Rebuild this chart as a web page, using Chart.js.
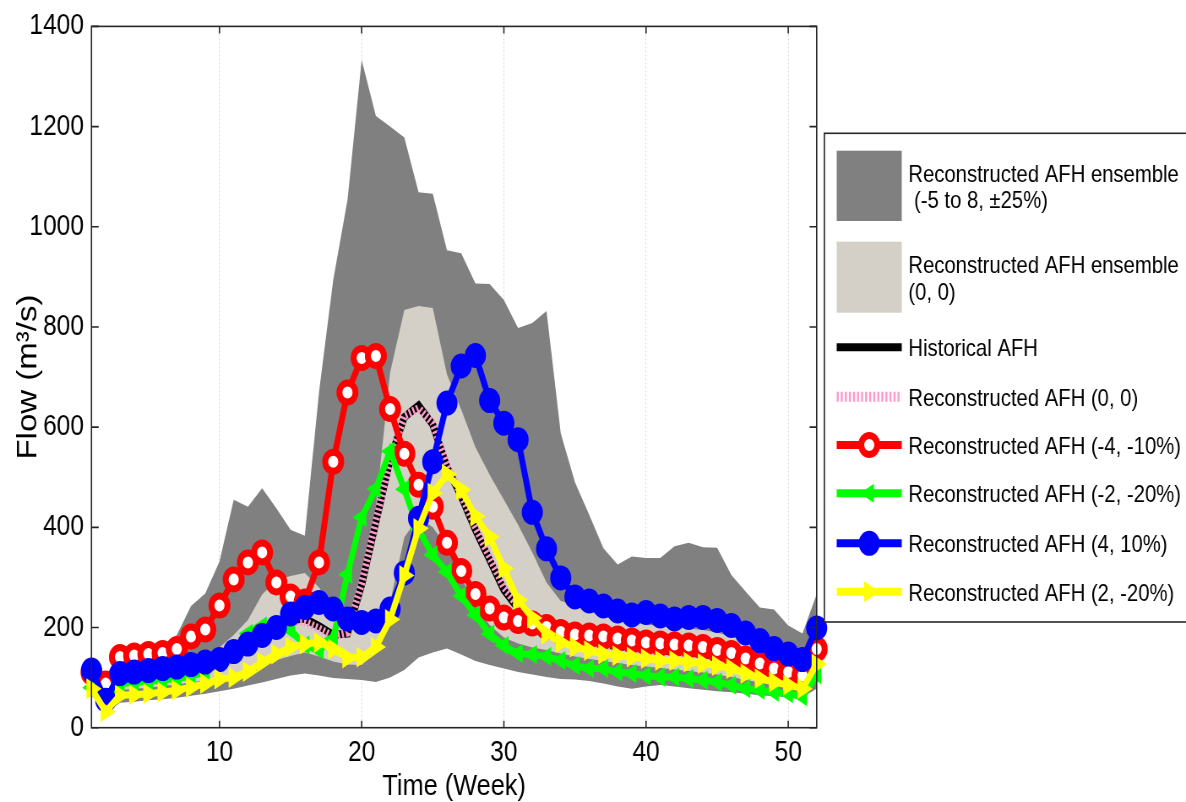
<!DOCTYPE html>
<html><head><meta charset="utf-8">
<script src="https://cdn.jsdelivr.net/npm/chart.js@4.4.0/dist/chart.umd.min.js"></script>
<style>
html,body{margin:0;padding:0;background:#fff;overflow:hidden;}
#wrap{width:1186px;height:802px;overflow:hidden;position:relative;background:#fff;}
#c{position:absolute;left:0;top:0;transform:scaleX(0.84473);transform-origin:0 0;}
</style></head><body>
<div id="wrap"><canvas id="c" width="1404" height="802"></canvas></div>
<script>
// ---- data ----
const weeks = [1,2,3,4,5,6,7,8,9,10,11,12,13,14,15,16,17,18,19,20,21,22,23,24,25,26,27,28,29,30,31,32,33,34,35,36,37,38,39,40,41,42,43,44,45,46,47,48,49,50,51,52];
const xTicks = [10,20,30,40,50];
const yTicks = [0,200,400,600,800,1000,1200,1400];
const darkUpper = [125,95,150,152,155,160,185,243,268,332,455,441,478,438,395,383,670,894,1053,1333,1221,1200,1178,1069,1066,953,947,887,886,854,798,808,832,588,490,425,358,326,342,339,339,362,369,360,359,305,272,240,236,204,188,267];
const darkLower = [65,28,50,52,55,57,60,64,68,73,78,84,90,97,104,108,104,99,97,95,91,100,115,140,150,158,146,133,125,118,111,106,101,97,96,93,88,82,78,82,85,82,79,76,73,71,68,65,63,61,61,78];
const lightUpper = [100,70,112,115,118,122,128,135,145,160,185,215,266,295,303,309,280,240,215,300,440,709,834,842,838,705,635,560,505,455,405,350,290,253,245,232,222,215,210,206,203,200,198,195,190,182,172,162,152,142,132,160];
const lightLower = [80,45,75,78,80,83,86,90,95,100,108,115,125,135,143,150,142,132,126,125,150,250,380,420,400,360,300,245,205,180,168,160,155,148,142,137,133,129,125,122,119,116,113,110,106,101,95,90,86,82,78,100];
const historical = [95,60,95,98,100,103,108,113,120,128,140,158,180,200,215,218,203,185,188,285,410,535,620,643,605,520,462,395,335,275,238,220,205,190,180,172,167,163,160,157,154,152,150,147,143,137,128,118,110,103,97,140];
const recon00 = [92,58,93,96,99,102,106,111,118,126,138,156,178,198,212,212,198,182,190,288,412,533,622,638,608,524,465,400,340,280,242,222,203,189,179,171,166,162,159,156,153,151,149,146,142,136,127,117,109,102,96,138];
const reconM4M10 = [110,88,141,144,147,149,157,182,196,244,296,330,350,290,262,252,330,531,669,738,742,636,547,485,441,369,313,267,238,220,213,208,201,191,186,184,182,178,174,170,168,166,164,161,155,149,138,128,118,111,104,157];
const reconM2M20 = [80,45,88,90,92,95,98,103,112,130,158,188,203,205,195,165,155,178,306,420,477,552,476,395,345,311,263,225,187,164,148,146,142,134,124,118,118,111,108,104,101,101,98,95,91,85,78,75,71,68,62,106];
const recon4P10 = [115,55,108,111,114,118,121,126,131,136,152,167,184,200,227,240,250,237,217,210,213,237,309,418,531,648,722,743,653,608,575,430,357,299,261,253,243,233,225,230,223,217,220,220,214,204,189,174,158,147,136,199];
const recon2M20 = [78,32,65,66,68,71,75,81,88,97,100,112,131,147,161,167,170,157,139,141,161,216,304,398,468,506,475,422,381,318,255,219,187,170,161,154,147,144,141,138,134,134,131,128,124,118,108,98,91,85,78,127];
const seriesLabels = [
  ['Reconstructed AFH ensemble', ' (-5 to 8, \u00b125%)'],
  ['Reconstructed AFH ensemble', '(0, 0)'],
  ['Historical AFH'],
  ['Reconstructed AFH (0, 0)'],
  ['Reconstructed AFH (-4, -10%)'],
  ['Reconstructed AFH (-2, -20%)'],
  ['Reconstructed AFH (4, 10%)'],
  ['Reconstructed AFH (2, -20%)']
];
const xTitle = 'Time (Week)';
const yTitle = 'Flow (m\u00b3/s)';

// ---- styling ----
const FONT = '"Liberation Sans", Arial, Helvetica, sans-serif';
const DARK = '#808080', LIGHT = 'rgb(212,208,200)';
const PINK = '#ff99cc';
const pts = arr => weeks.map((w,i)=>({x:w, y:arr[i]}));

const band = (data, fill, color, order) => ({
  data: pts(data), borderWidth: 0, pointRadius: 0, borderColor: 'rgba(0,0,0,0)',
  backgroundColor: color, fill: fill, order: order, tension: 0
});

const datasets = [
  band(darkLower, false, DARK, 20),
  band(darkUpper, '-1', DARK, 19),
  band(lightLower, false, LIGHT, 18),
  band(lightUpper, '-1', LIGHT, 17),
  {data: pts(historical), borderColor:'#000', borderWidth:8, pointRadius:0, fill:false, order:16, clip:false},
  {data: pts(recon00), borderColor:PINK, borderWidth:8, borderDash:[2.4,2.4], pointRadius:0, fill:false, order:15, clip:false},
  {data: pts(reconM4M10), borderColor:'#ff0000', borderWidth:7, pointRadius:9.5, pointBorderWidth:7,
   pointBackgroundColor:'#fff', pointBorderColor:'#ff0000', fill:false, order:14, clip:false},
  {data: pts(reconM2M20), borderColor:'#00ff00', borderWidth:7, pointStyle:'triangle', pointRotation:270, pointRadius:8,
   pointBorderWidth:3, pointBackgroundColor:'#00ff00', pointBorderColor:'#00ff00', fill:false, order:13, clip:false},
  {data: pts(recon4P10), borderColor:'#0000ff', borderWidth:7, pointRadius:11.5, pointBorderWidth:2,
   pointBackgroundColor:'#0000ff', pointBorderColor:'#0000ff', fill:false, order:12, clip:false},
  {data: pts(recon2M20), borderColor:'#ffff00', borderWidth:7, pointStyle:'triangle', pointRotation:90, pointRadius:9,
   pointBorderWidth:3, pointBackgroundColor:'#ffff00', pointBorderColor:'#ffff00', fill:false, order:11, clip:false}
];

const framePlugin = {
  id: 'frame',
  afterDatasetsDraw(chart) {
    const {ctx, chartArea: a, scales: {x, y}} = chart;
    ctx.save();
    ctx.strokeStyle = '#262626'; ctx.lineWidth = 1.6; ctx.setLineDash([]);
    ctx.strokeRect(a.left, a.top, a.right - a.left, a.bottom - a.top);
    ctx.beginPath();
    xTicks.forEach(v => { const p = x.getPixelForValue(v);
      ctx.moveTo(p, a.bottom); ctx.lineTo(p, a.bottom - 7);
      ctx.moveTo(p, a.top); ctx.lineTo(p, a.top + 7); });
    yTicks.forEach(v => { const p = y.getPixelForValue(v);
      ctx.moveTo(a.left, p); ctx.lineTo(a.left + 8.5, p);
      ctx.moveTo(a.right, p); ctx.lineTo(a.right - 8.5, p); });
    ctx.stroke();
    ctx.restore();
  }
};

const legendPlugin = {
  id: 'afhLegend',
  afterDraw(chart) {
    const ctx = chart.ctx;
    ctx.save();
    const L = 975.8, T = 133.3, B = 622, R = 1440;
    ctx.fillStyle = '#fff'; ctx.fillRect(L, T, R - L, B - T);
    ctx.strokeStyle = '#262626'; ctx.lineWidth = 1.6; ctx.strokeRect(L, T, R - L, B - T);
    const s0 = 990.5, s1 = 1067.5, tx = 1075.3, mx = (s0 + s1) / 2;
    ctx.fillStyle = DARK; ctx.fillRect(s0, 150.7, s1 - s0, 70.3);
    ctx.fillStyle = LIGHT; ctx.fillRect(s0, 241.7, s1 - s0, 71);
    ctx.font = '24px ' + FONT; ctx.fillStyle = '#000'; ctx.textAlign = 'left'; ctx.textBaseline = 'alphabetic';
    ctx.fillText(seriesLabels[0][0], tx, 181.7);
    ctx.fillText(seriesLabels[0][1], tx, 208.4);
    ctx.fillText(seriesLabels[1][0], tx, 272.5);
    ctx.fillText(seriesLabels[1][1], tx, 299.5);
    const lineYs = [347.3, 396.7, 445, 493.3, 543.3, 591.7];
    lineYs.forEach((ly, k) => {
      const ds = datasets[4 + k];
      ctx.save();
      ctx.strokeStyle = ds.borderColor; ctx.lineWidth = (k === 1) ? 10 : 8;
      ctx.setLineDash(ds.borderDash || []);
      ctx.beginPath(); ctx.moveTo(s0, ly); ctx.lineTo(s1, ly); ctx.stroke();
      ctx.setLineDash([]);
      if (k >= 2) {
        ctx.fillStyle = ds.pointBackgroundColor; ctx.strokeStyle = ds.pointBorderColor;
        ctx.lineWidth = ds.pointBorderWidth;
        ctx.beginPath();
        if (ds.pointStyle === 'triangle') {
          const r = ds.pointRadius, dir = ds.pointRotation === 270 ? -1 : 1;
          ctx.moveTo(mx + dir * r, ly); ctx.lineTo(mx - dir * r * 0.5, ly - r * 0.866);
          ctx.lineTo(mx - dir * r * 0.5, ly + r * 0.866); ctx.closePath();
        } else {
          ctx.arc(mx, ly, ds.pointRadius, 0, Math.PI * 2);
        }
        ctx.fill(); ctx.stroke();
      }
      ctx.restore();
      ctx.fillStyle = '#000';
      ctx.fillText(seriesLabels[2 + k][0], tx, ly + 9);
    });
    ctx.restore();
  }
};

new Chart(document.getElementById('c'), {
  type: 'line',
  data: { datasets },
  options: {
    responsive: false, animation: false, devicePixelRatio: 1,
    layout: { padding: { left: 0, top: 21.4, right: 1404 - 966.8, bottom: 0 } },
    plugins: { legend: { display: false }, tooltip: { enabled: false } },
    elements: { line: { tension: 0 } },
    scales: {
      x: {
        type: 'linear', min: 1, max: 52,
        afterBuildTicks: s => { s.ticks = xTicks.map(v => ({ value: v })); },
        afterFit: s => { s.height = 802 - 727.7; },
        grid: { color: '#d6d6d6', lineWidth: 1, drawTicks: false },
        border: { display: false, dash: [2, 2] },
        ticks: { color: '#000', font: { family: FONT, size: 29 }, padding: 8, maxRotation: 0, callback: v => String(v) },
        title: { display: true, text: xTitle, color: '#000', font: { family: FONT, size: 30, lineHeight: 1 }, padding: { top: 0, bottom: 0 } }
      },
      y: {
        min: 0, max: 1400,
        afterBuildTicks: s => { s.ticks = yTicks.map(v => ({ value: v })); },
        afterFit: s => { s.width = 108.3; },
        grid: { display: false, drawTicks: false },
        border: { display: false },
        ticks: { color: '#000', font: { family: FONT, size: 29 }, padding: 9, callback: v => String(v) },
        title: { display: true, text: yTitle, color: '#000', font: { family: FONT, size: 33, lineHeight: 1 }, padding: { top: 17, bottom: 0 } }
      }
    }
  },
  plugins: [framePlugin, legendPlugin]
});
</script>
</body></html>
